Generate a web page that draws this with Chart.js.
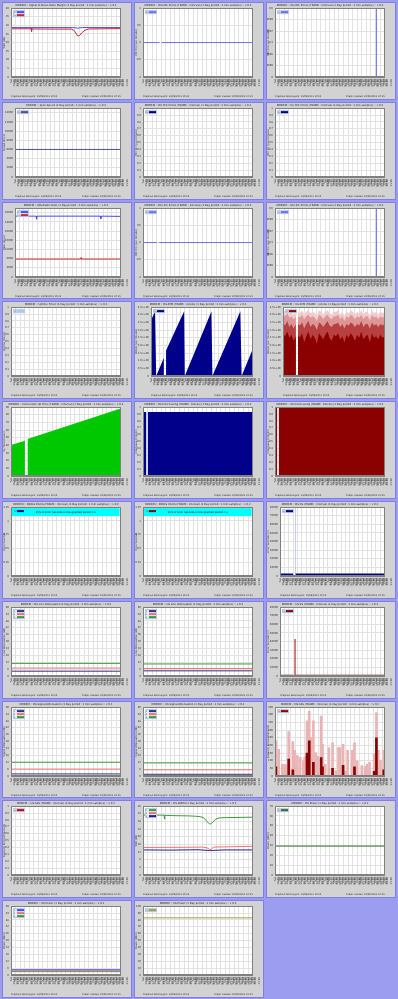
<!DOCTYPE html>
<html>
<head>
<meta charset="utf-8">
<script src="https://cdn.jsdelivr.net/npm/chart.js@4.4.0/dist/chart.umd.min.js"></script>
<style>
  html, body { margin: 0; padding: 0; }
  body { width: 398px; height: 999px; background: #9c9cf0; overflow: hidden; }
  #grid {
    display: grid;
    grid-template-columns: repeat(3, 130px);
    grid-template-rows: repeat(10, 1fr);
    gap: 2px;
    padding: 2px 2px 1px 2px;
    height: 999px;
    box-sizing: border-box;
  }
  .panel { position: relative; background: #d2d2d2; box-sizing: border-box; border: 1px solid #7e7ee6; }
  .panel canvas { position: absolute; left: 0; top: 0; }
</style>
</head>
<body>
<div id="grid"></div>
<script>
const FONT = 'DejaVu Sans';
const FOOTER = ['Graphed data begins: 19/06/2012 10:25', 'Graph created: 20/06/2012 10:25'];

// x axis: one tick per hour
const TIME_LABELS = [
  'Tue 19/06 11:00', 'Tue 19/06 12:00', 'Tue 19/06 13:00', 'Tue 19/06 14:00', 'Tue 19/06 15:00',
  'Tue 19/06 16:00', 'Tue 19/06 17:00', 'Tue 19/06 18:00', 'Tue 19/06 19:00', 'Tue 19/06 20:00',
  'Tue 19/06 21:00', 'Tue 19/06 22:00', 'Tue 19/06 23:00', 'Wed 20/06 00:00', 'Wed 20/06 01:00',
  'Wed 20/06 02:00', 'Wed 20/06 03:00', 'Wed 20/06 04:00', 'Wed 20/06 05:00', 'Wed 20/06 06:00',
  'Wed 20/06 07:00', 'Wed 20/06 08:00', 'Wed 20/06 09:00', 'Wed 20/06 10:00', 'Wed 20/06 11:00'
];

// [hour, value] samples
const SNR_DS = [[0,28.7],[4.4,28.7],[4.5,27.9],[4.6,28.7],[13.5,28.7],[14.6,28.4],[15.6,28.7],[24,28.7]];
const SNR_US = [[0,28.0],[4.4,28.0],[4.5,26.4],[4.6,27.9],[10,27.8],[13.2,27.8],[13.8,27.1],[14.3,25.0],[14.6,23.8],[15.0,24.1],[15.5,25.6],[16.2,27.2],[17,27.9],[20,28.0],[24,28.1]];
const CRC_DS = [[0,0],[3.6,0],[3.61,null],[4.1,0],[24,0]];
const CRC_US = [[22.2,0],[22.2,1]];
const SYNC_DS = [[0,6000],[24,6000]];
const ATT_DS = [[0,26500],[4.8,26500],[4.9,25200],[5.0,26500],[19.4,26500],[19.5,25400],[19.6,26500],[24,26400]];
const ATT_US = [[0,7800],[14.9,7800],[15.0,8400],[15.1,7800],[24,7800]];
const HEC_DS = [[0,0],[3.05,0],[3.06,null],[3.55,0],[24,0]];
const HEC_US = [[22.2,0],[22.2,1]];
const ATM_DS = [[0,3.63],[0.94,4.23],[1.23,0],[3.05,1.2],[3.06,null],[3.55,1.67],[7.83,4.23],[7.98,0],[14.28,4.23],[14.5,0],[21.1,4.23],[21.4,0],[24,1.75]];

// half-hour samples with a hole at the modem restart
const GAP_X = [0,0.5,1,1.5,2,2.5,3.05,3.3,3.55,4,4.5,5,5.5,6,6.5,7,7.5,8,8.5,9,9.5,10,10.5,11,11.5,12,12.5,13,13.5,14,14.5,15,15.5,16,16.5,17,17.5,18,18.5,19,19.5,20,20.5,21,21.5,22,22.5,23,23.5,24];
const ATM_US_BASE = [2.8,2.6,2.9,2.5,2.7,2.3,2.6,null,2.7,2.5,2.8,2.2,2.6,2.9,2.4,2.7,2.5,2.1,2.8,2.6,2.4,2.7,2.9,2.5,2.3,2.7,2.6,2.8,2.4,2.6,2.2,2.7,2.5,2.8,2.6,2.3,2.7,2.5,2.9,2.4,2.6,2.7,2.2,2.8,2.5,2.6,2.4,2.7,2.5,2.6];
const ATM_US_MID = [3.5,3.3,3.6,3.2,3.4,3.1,3.4,null,3.4,3.3,3.5,3.1,3.4,3.6,3.2,3.4,3.3,3.0,3.5,3.4,3.2,3.4,3.6,3.3,3.2,3.4,3.4,3.5,3.2,3.4,3.1,3.4,3.3,3.5,3.4,3.2,3.4,3.3,3.6,3.2,3.4,3.4,3.1,3.5,3.3,3.4,3.2,3.4,3.3,3.4];
const ATM_US_HI = [4.0,3.9,4.1,3.8,3.9,3.7,3.9,null,3.9,3.8,4.0,3.7,3.9,4.0,3.8,3.9,3.8,3.6,4.0,3.9,3.7,3.9,4.0,3.8,3.7,3.9,3.9,4.0,3.7,3.9,3.6,3.9,3.8,4.0,3.9,3.7,3.9,3.8,4.0,3.7,3.9,3.9,3.6,4.0,3.8,3.9,3.7,3.9,3.8,3.9];
const ATM_US_PEAK = [4.3,4.2,4.3,4.1,4.2,4.0,4.2,null,4.2,4.1,4.3,4.0,4.2,4.3,4.1,4.2,4.1,3.9,4.3,4.2,4.0,4.2,4.3,4.1,4.0,4.2,4.2,4.3,4.0,4.2,3.9,4.2,4.1,4.3,4.2,4.0,4.2,4.1,4.3,4.0,4.2,4.2,3.9,4.3,4.1,4.2,4.0,4.2,4.1,4.2];

const UPTIME = [[0,40.5],[3.05,46.2],[3.06,null],[3.6,48.2],[24,88.2]];
const INTL_DS = [[0,0.93],[0.75,0.93],[0.76,null],[1.05,0.93],[24,0.93]];
const INTL_US = [[0,1.2],[0.5,1.2],[0.51,null],[0.8,1.2],[24,1.2]];
const ES_DS = [[0,3000],[3.05,3000],[3.06,null],[3.55,3000],[24,3000]];
const ES_DS_SPIKE = [[3.55,0],[3.55,90000]];
const LATN_1 = [[0,4.2],[24,4.2]], LATN_2 = [[0,6.9],[24,6.9]], LATN_3 = [[0,11],[24,11]];
const SATN_1 = [[0,4.5],[24,4.5]], SATN_2 = [[0,6.6],[24,6.6]], SATN_3 = [[0,10.5],[24,10.5]];
const ES_US = [[0,1500],[3.05,1500],[3.06,null],[3.45,1500],[24,1500]];
const ES_US_SPIKE = [[3.45,0],[3.45,43000]];
const LATN2_1 = [[0,1.8],[24,1.8]], LATN2_2 = [[0,6],[24,6]], LATN2_3 = [[0,12],[24,12]];
const SATN2_1 = [[0,1.5],[24,1.5]], SATN2_2 = [[0,5.4],[24,5.4]], SATN2_3 = [[0,11.4],[24,11.4]];
const SES_PINK = [[0.2,230],[0.8,175],[1.6,77],[2.1,77],[2.5,70],[3.0,290],[3.9,225],[4.3,167],[4.9,135],[5.5,122],[6.2,99],[6.5,126],[7.0,360],[7.5,423],[7.8,252],[8.4,360],[8.9,153],[9.4,130],[10.1,391],[10.4,207],[11.0,77],[11.8,185],[12.6,216],[13.3,36],[13.9,185],[14.2,185],[14.9,207],[15.4,32],[15.9,167],[16.9,167],[17.4,216],[18.0,99],[19.0,68],[19.7,63],[20.2,77],[20.7,90],[21.7,144],[22.2,414],[22.6,167],[23.1,104],[23.8,167]];
const SES_DARK = [[0.2,60],[3.0,110],[3.9,40],[7.0,150],[7.5,230],[8.4,90],[10.1,120],[10.4,60],[12.6,50],[14.9,70],[17.4,60],[21.7,30],[22.2,250],[23.8,40]];
const SNR2_GREEN = [[0,31.3],[4.6,31.3],[4.7,29.2],[4.8,31.2],[7,31.0],[10,30.9],[11.5,30.7],[12.5,30.5],[13.2,30.0],[13.8,28.6],[14.4,27.0],[14.7,26.6],[15.2,27.4],[15.8,29.0],[16.6,29.8],[18,30.0],[24,30.2]];
const SNR2_RED = [[0,14.4],[10,14.5],[13,14.6],[14.3,14.0],[14.6,13.0],[15,13.8],[15.5,14.6],[20,14.8],[24,15.0]];
const SNR2_BLUE = [[0,13.1],[6,13.0],[12,13.2],[14.6,12.8],[18,13.1],[24,13.1]];
const PWR_DS = [[0,29.4],[24,29.4]];
const ATN3_1 = [[0,4.6],[24,4.6]], ATN3_2 = [[0,3.7],[24,3.7]], ATN3_3 = [[0,2.9],[24,2.9]];
const PWR_US = [[0,83],[24,83]];

const pts = a => a.map(([x, y]) => ({x, y}));
const zip = (xs, ys) => xs.map((x, i) => ({x, y: ys[i]}));

function line(label, color, data, extra) {
  return Object.assign({label, data: Array.isArray(data[0]) ? pts(data) : data, borderColor: color, backgroundColor: color,
    borderWidth: 1, pointRadius: 0, fill: false, spanGaps: false}, extra);
}
function area(label, color, data, extra) {
  return line(label, color, data, Object.assign({fill: 'origin', borderWidth: 0}, extra));
}
function bars(label, color, data, extra) {
  return Object.assign({type: 'bar', label, data: pts(data), backgroundColor: color, barThickness: 2, grouped: false}, extra);
}
const eFmt = v => v === 0 ? '0' : v.toFixed(1) + 'e+06';
const TAIL = ' (1 Day period : 1 min samples) :: v 0.2';

const PANELS = [
  {title: 'MODEM :: Signal to Noise Ratio Margin' + TAIL, yTitle: 'SNR (dB)', y: [0, 40, 5],
   sets: [line('DS', '#4848ff', SNR_DS), line('US', '#cc2a2a', SNR_US)]},
  {title: 'MODEM :: DS CRC Errors (FRAME : interval)' + TAIL, yTitle: 'CRC Err (per minute)', y: [-1, 1, 0.5],
   sets: [line('DS', '#7070e4', CRC_DS)]},
  {title: 'MODEM :: US CRC Errors (FRAME : interval)' + TAIL, yTitle: 'CRC Err (per minute)', y: [0, 0.6, 0.1],
   sets: [line('US', '#7070e4', CRC_US)]},
  {title: 'MODEM :: Sync Speed' + TAIL, yTitle: 'Speed (kbps)', y: [0, 15000, 1000], yw: 12,
   sets: [line('DS', '#505090', SYNC_DS)]},
  {title: 'MODEM :: DS FEC Errors (FRAME : interval)' + TAIL, yTitle: 'FEC Err (per minute)', y: [0, 1, 0.1],
   sets: [line('DS', '#000080', [])]},
  {title: 'MODEM :: US FEC Errors (FRAME : interval)' + TAIL, yTitle: 'FEC Err (per minute)', y: [0, 1, 0.1],
   sets: [line('US', '#000080', [])]},
  {title: 'MODEM :: Attainable Rate' + TAIL, yTitle: 'Rate (kbps)', y: [0, 30000, 2000], yw: 12,
   sets: [line('DS', '#4848ff', ATT_DS), line('US', '#cc2a2a', ATT_US)]},
  {title: 'MODEM :: DS HEC Errors (FRAME : interval)' + TAIL, yTitle: 'HEC Err (per minute)', y: [-1, 1, 0.5],
   sets: [line('DS', '#7070e4', HEC_DS)]},
  {title: 'MODEM :: US HEC Errors (FRAME : interval)' + TAIL, yTitle: 'HEC Err (per minute)', y: [0, 0.6, 0.1],
   sets: [line('US', '#7070e4', HEC_US)]},
  {title: 'MODEM :: Uptime Timer' + TAIL, yTitle: 'Uptime (hours)', y: [0, 1, 0.1],
   sets: [line('UP', '#a8c8f8', [])]},
  {title: 'MODEM :: DS:ATM (FRAME : octets)' + TAIL, yTitle: 'Octets (per minute)', y: [0, 4.5, 0.5], yw: 16, fmt: eFmt,
   sets: [area('DS', '#00008b', ATM_DS)]},
  {title: 'MODEM :: US:ATM (FRAME : octets)' + TAIL, yTitle: 'Octets (per minute)', y: [0, 4.5, 0.5], yw: 16, fmt: eFmt,
   sets: [area('US', '#8b0000', zip(GAP_X, ATM_US_BASE)), area('', '#b84040', zip(GAP_X, ATM_US_MID), {legend: false}),
          area('', '#dc9696', zip(GAP_X, ATM_US_HI), {legend: false}), area('', '#f2cccc', zip(GAP_X, ATM_US_PEAK), {legend: false})]},
  {title: 'MODEM :: Connection Up Time (FRAME : interval)' + TAIL, yTitle: 'Up Time (hours)', y: [0, 90, 10],
   sets: [area('UP', '#00c800', UPTIME, {legend: false})]},
  {title: 'MODEM :: DS Interleaving (FRAME : blocks)' + TAIL, yTitle: 'Interleave (blocks)', y: [0, 1, 0.1],
   sets: [area('DS', '#00008b', INTL_DS, {legend: false})]},
  {title: 'MODEM :: US Interleaving (FRAME : blocks)' + TAIL, yTitle: 'Interleave (blocks)', y: [0, 1, 0.1],
   sets: [area('US', '#8b0000', INTL_US, {legend: false})]},
  {title: 'MODEM :: ERRLS DS:ES (FRAME : interval)' + TAIL, yTitle: 'Error Seconds', y: [0, 1.25, 0.25],
   banner: '95% of Error Seconds in the graphed period = 0', sets: [line('DS', '#000080', [])]},
  {title: 'MODEM :: ERRLS US:ES (FRAME : interval)' + TAIL, yTitle: 'Error Seconds', y: [0, 1.25, 0.25],
   banner: '95% of Error Seconds in the graphed period = 0', sets: [line('US', '#8b0000', [])]},
  {title: 'MODEM :: DS:ES (FRAME : interval)' + TAIL, yTitle: 'Error Seconds (s)', y: [0, 80000, 10000], yw: 13,
   sets: [area('DS', '#00008b', ES_DS), line('', '#c8c8ff', ES_DS_SPIKE, {legend: false})]},
  {title: 'MODEM :: DS Line Attenuation' + TAIL, yTitle: 'Line Attenuation (dB)', y: [0, 60, 2],
   sets: [line('1', '#30307c', LATN_1), line('2', '#f07070', LATN_2), line('3', '#3c9a3c', LATN_3)]},
  {title: 'MODEM :: US Line Attenuation' + TAIL, yTitle: 'Line Attenuation (dB)', y: [0, 60, 2],
   sets: [line('1', '#30307c', SATN_1), line('2', '#f07070', SATN_2), line('3', '#3c9a3c', SATN_3)]},
  {title: 'MODEM :: US:ES (FRAME : interval)' + TAIL, yTitle: 'Error Seconds (s)', y: [0, 80000, 10000], yw: 13,
   sets: [area('US', '#8b0000', ES_US), line('', '#b00000', ES_US_SPIKE, {legend: false})]},
  {title: 'MODEM :: DS Signal Attenuation' + TAIL, yTitle: 'Signal Attenuation (dB)', y: [0, 60, 2],
   sets: [line('1', '#30307c', LATN2_1), line('2', '#f07070', LATN2_2), line('3', '#3c9a3c', LATN2_3)]},
  {title: 'MODEM :: US Signal Attenuation' + TAIL, yTitle: 'Signal Attenuation (dB)', y: [0, 60, 2],
   sets: [line('1', '#30307c', SATN2_1), line('2', '#f07070', SATN2_2), line('3', '#3c9a3c', SATN2_3)]},
  {title: 'MODEM :: DS:SES (FRAME : interval)' + TAIL, yTitle: 'Severely Errored Seconds', y: [0, 450, 50],
   sets: [bars('SES', '#8b0000', SES_DARK), bars('', '#eab4b4', SES_PINK, {legend: false})]},
  {title: 'MODEM :: US:SES (FRAME : interval)' + TAIL, yTitle: 'Severely Errored Seconds', y: [0, 1, 0.1],
   sets: [line('US', '#cc0000', [])]},
  {title: 'MODEM :: DS SNRM' + TAIL, yTitle: 'SNR (dB)', y: [0, 36, 2],
   sets: [line('1', '#3c9a3c', SNR2_GREEN), line('2', '#f07070', SNR2_RED), line('3', '#20208c', SNR2_BLUE)]},
  {title: 'MODEM :: DS Power' + TAIL, yTitle: 'Power (dBm)', y: [0, 70, 5],
   sets: [line('DS', '#2f6f2f', PWR_DS)]},
  {title: 'MODEM :: US Power' + TAIL, yTitle: 'Power (dBm)', y: [0, 60, 2],
   sets: [line('1', '#4848ff', ATN3_1), line('2', '#f07070', ATN3_2), line('3', '#3c9a3c', ATN3_3)]},
  {title: 'MODEM :: US Power' + TAIL, yTitle: 'Power (dBm)', y: [0, 100, 10],
   sets: [line('US', '#a0a040', PWR_US)]}
];

const panelDecor = {
  id: 'panelDecor',
  beforeDraw(chart) {
    const {ctx, chartArea: a} = chart;
    ctx.save();
    ctx.fillStyle = '#ffffff';
    ctx.fillRect(a.left, a.top, a.width, a.height);
    ctx.restore();
  },
  afterDraw(chart, args, opts) {
    const {ctx, chartArea: a, height} = chart;
    ctx.save();
    ctx.strokeStyle = '#808080';
    ctx.lineWidth = 1;
    ctx.strokeRect(Math.round(a.left) + 0.5, Math.round(a.top) + 0.5, Math.round(a.width) - 1, Math.round(a.height) - 1);
    const lx = a.left + 2, ly = a.top + 2;
    if (opts.banner) {
      ctx.fillStyle = '#00ffff';
      ctx.fillRect(a.left + 1, a.top + 1, a.width - 2, 8);
      ctx.fillStyle = '#000';
      ctx.font = '2.5px ' + FONT;
      ctx.textAlign = 'center';
      ctx.textBaseline = 'middle';
      ctx.fillText(opts.banner, (a.left + a.right) / 2, a.top + 5);
    }
    const keys = chart.data.datasets.filter(d => d.legend !== false);
    if (keys.length) {
      const w = 12, h = keys.length * 3 + 1;
      if (!opts.banner) {
        ctx.fillStyle = '#e4eefc';
        ctx.fillRect(lx, ly, w, h);
        ctx.strokeStyle = '#b4c8ec';
        ctx.strokeRect(lx + 0.5, ly + 0.5, w - 1, h - 1);
      }
      ctx.font = '2px ' + FONT;
      ctx.textAlign = 'left';
      ctx.textBaseline = 'middle';
      keys.forEach((d, i) => {
        const yy = ly + 2 + i * 3;
        ctx.fillStyle = '#444';
        ctx.fillText(d.label, lx + 1, yy);
        ctx.fillStyle = d.borderColor || d.backgroundColor;
        ctx.fillRect(lx + 4, yy - 1, 7, 2);
      });
    }
    ctx.font = '2.3px ' + FONT;
    ctx.fillStyle = '#333';
    ctx.textBaseline = 'middle';
    ctx.textAlign = 'left';
    ctx.fillText(FOOTER[0], a.left, height - 3);
    ctx.textAlign = 'right';
    ctx.fillText(FOOTER[1], a.right, height - 3);
    ctx.restore();
  }
};

const grid = document.getElementById('grid');
PANELS.forEach(p => {
  const el = document.createElement('div');
  el.className = 'panel';
  grid.appendChild(el);
  const c = document.createElement('canvas');
  c.width = el.clientWidth;
  c.height = el.clientHeight;
  el.appendChild(c);
  new Chart(c, {
    type: 'line',
    data: {datasets: p.sets},
    options: {
      responsive: false,
      animation: false,
      events: [],
      layout: {padding: {left: 0, right: 2, top: 0, bottom: 6}},
      plugins: {
        legend: {display: false},
        tooltip: {enabled: false},
        title: {display: true, text: p.title, color: '#222', font: {size: 2.6, family: FONT, weight: 'normal'}, padding: {top: 1, bottom: 1}},
        panelDecor: {banner: p.banner}
      },
      scales: {
        x: {
          type: 'linear', min: 0, max: 24, offset: false,
          ticks: {stepSize: 1, autoSkip: false, maxRotation: 90, minRotation: 90, padding: 1, color: '#333',
                  font: {size: 2.6, family: FONT}, callback: v => TIME_LABELS[v] ? TIME_LABELS[v].split(' ') : ''},
          grid: {color: '#e2e2e2', tickLength: 1},
          border: {color: '#808080'},
          afterFit: s => { s.height = 16; }
        },
        y: {
          min: p.y[0], max: p.y[1],
          ticks: {stepSize: p.y[2], padding: 1, color: '#333', font: {size: 2.6, family: FONT}, callback: p.fmt || (v => v)},
          title: {display: true, text: p.yTitle, color: '#333', font: {size: 2.6, family: FONT}, padding: 0},
          grid: {color: '#e2e2e2', tickLength: 1},
          border: {color: '#808080'},
          afterFit: s => { s.width = p.yw || 8; }
        }
      }
    },
    plugins: [panelDecor]
  });
});
</script>
</body>
</html>
